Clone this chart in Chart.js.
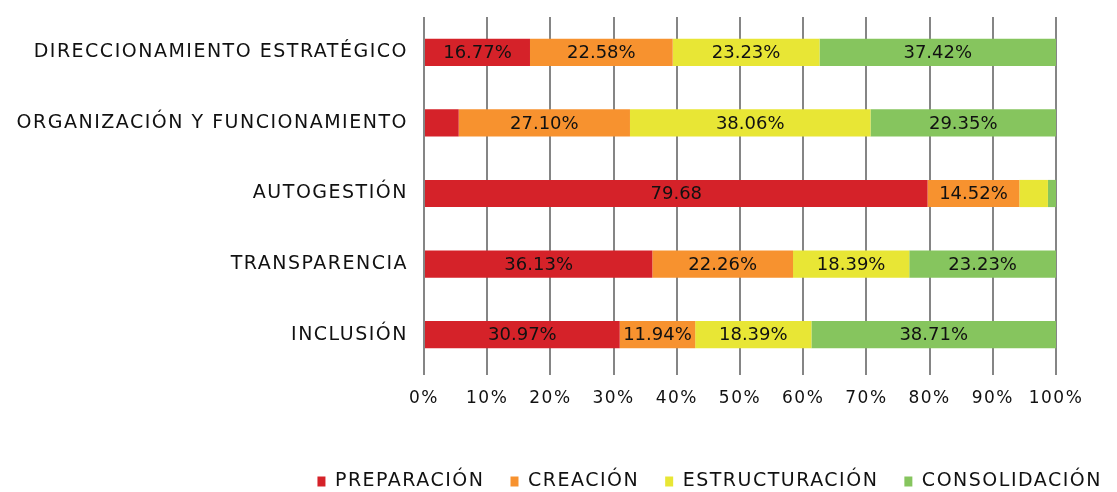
<!DOCTYPE html>
<html>
<head>
<meta charset="utf-8">
<script src="https://cdn.jsdelivr.net/npm/chart.js@4"></script>
<style>
	html, body { margin: 0; padding: 0; background: #fff; }
	#wrap { width: 1117px; height: 492px; position: relative; }
</style>
</head>
<body>
<div id="wrap"><canvas id="chart"></canvas></div>
<script>
const categories = [
	"DIRECCIONAMIENTO ESTRATÉGICO",
	"ORGANIZACIÓN Y FUNCIONAMIENTO",
	"AUTOGESTIÓN",
	"TRANSPARENCIA",
	"INCLUSIÓN"
];
const seriesNames = ["PREPARACIÓN", "CREACIÓN", "ESTRUCTURACIÓN", "CONSOLIDACIÓN"];

const preparacion = [16.77, 5.49, 79.68, 36.13, 30.97];
const creacion = [22.58, 27.10, 14.52, 22.26, 11.94];
const estructuracion = [23.23, 38.06, 4.52, 18.39, 18.39];
const consolidacion = [37.42, 29.35, 1.28, 23.23, 38.71];

const preparacionLabels = ["16.77%", "", "79.68", "36.13%", "30.97%"];
const creacionLabels = ["22.58%", "27.10%", "14.52%", "22.26%", "11.94%"];
const estructuracionLabels = ["23.23%", "38.06%", "", "18.39%", "18.39%"];
const consolidacionLabels = ["37.42%", "29.35%", "", "23.23%", "38.71%"];

const xTicks = [0, 10, 20, 30, 40, 50, 60, 70, 80, 90, 100];

const colors = ["#D52229", "#F7922F", "#E8E635", "#86C55E"];
const FONT = "'DejaVu Sans', sans-serif";
const SPACING = "1.5px";

// the original font is much wider, so open up the letters a bit
const letterSpacing = {
	id: "letterSpacing",
	beforeUpdate(chart) { chart.ctx.letterSpacing = SPACING; },
	beforeDraw(chart) { chart.ctx.letterSpacing = SPACING; },
	afterLayout(chart) {
		const lg = chart.legend;
		const w = lg.right - lg.left;
		lg.right = 1128;
		lg.left = lg.right - w;
		const h = lg.bottom - lg.top;
		lg.top = 482 - 26 - 10;
		lg.bottom = lg.top + h;
	}
};

// draws the text labels inside each bar segment
const segmentLabels = {
	id: "segmentLabels",
	afterDatasetsDraw(chart) {
		const ctx = chart.ctx;
		ctx.save();
		ctx.letterSpacing = "0px";
		ctx.font = "18px " + FONT;
		ctx.fillStyle = "#111";
		ctx.textAlign = "center";
		ctx.textBaseline = "middle";
		chart.data.datasets.forEach((ds, i) => {
			chart.getDatasetMeta(i).data.forEach((bar, j) => {
				const text = ds.labelTexts[j];
				if (!text) return;
				ctx.fillText(text, (bar.base + bar.x) / 2, bar.y + 1);
			});
		});
		ctx.restore();
	}
};

const allValues = [preparacion, creacion, estructuracion, consolidacion];
const allLabels = [preparacionLabels, creacionLabels, estructuracionLabels, consolidacionLabels];

new Chart("chart", {
	type: "bar",
	data: {
		labels: categories,
		datasets: seriesNames.map((name, i) => ({
			label: name,
			data: allValues[i],
			labelTexts: allLabels[i],
			backgroundColor: colors[i],
			borderWidth: 0,
			barPercentage: 0.77,
			categoryPercentage: 0.5,
		})),
	},
	options: {
		indexAxis: "y",
		responsive: true,
		maintainAspectRatio: false,
		animation: false,
		layout: { padding: { top: 17, right: 61, bottom: 14, left: 0 } },
		scales: {
			x: {
				stacked: true,
				min: 0,
				max: 100,
				afterBuildTicks: (scale) => {
					scale.ticks = xTicks.map((v) => ({ value: v }));
				},
				afterFit: (scale) => {
					scale.height = 53;
					scale.paddingLeft = 0;
					scale.paddingRight = 0;
				},
				grid: {
					color: "#858585",
					lineWidth: 2,
					drawTicks: true,
					tickLength: 5,
				},
				border: { display: false },
				ticks: {
					color: "#111",
					font: { family: FONT, size: 17 },
					padding: 13,
					callback: (v) => v + "%",
				},
			},
			y: {
				stacked: true,
				afterFit: (scale) => {
					scale.width = 424;
					scale.paddingTop = 0;
					scale.paddingBottom = 0;
				},
				grid: { display: false },
				border: { display: false },
				ticks: {
					color: "#111",
					font: { family: FONT, size: 19 },
					padding: 8,
				},
			},
		},
		plugins: {
			legend: {
				position: "bottom",
				align: "end",
				labels: {
					color: "#111",
					font: { family: FONT, size: 19 },
					boxWidth: 8,
					boxHeight: 10,
					padding: 26,
				},
			},
			tooltip: { enabled: false },
		},
	},
	plugins: [letterSpacing, segmentLabels],
});
</script>
</body>
</html>
